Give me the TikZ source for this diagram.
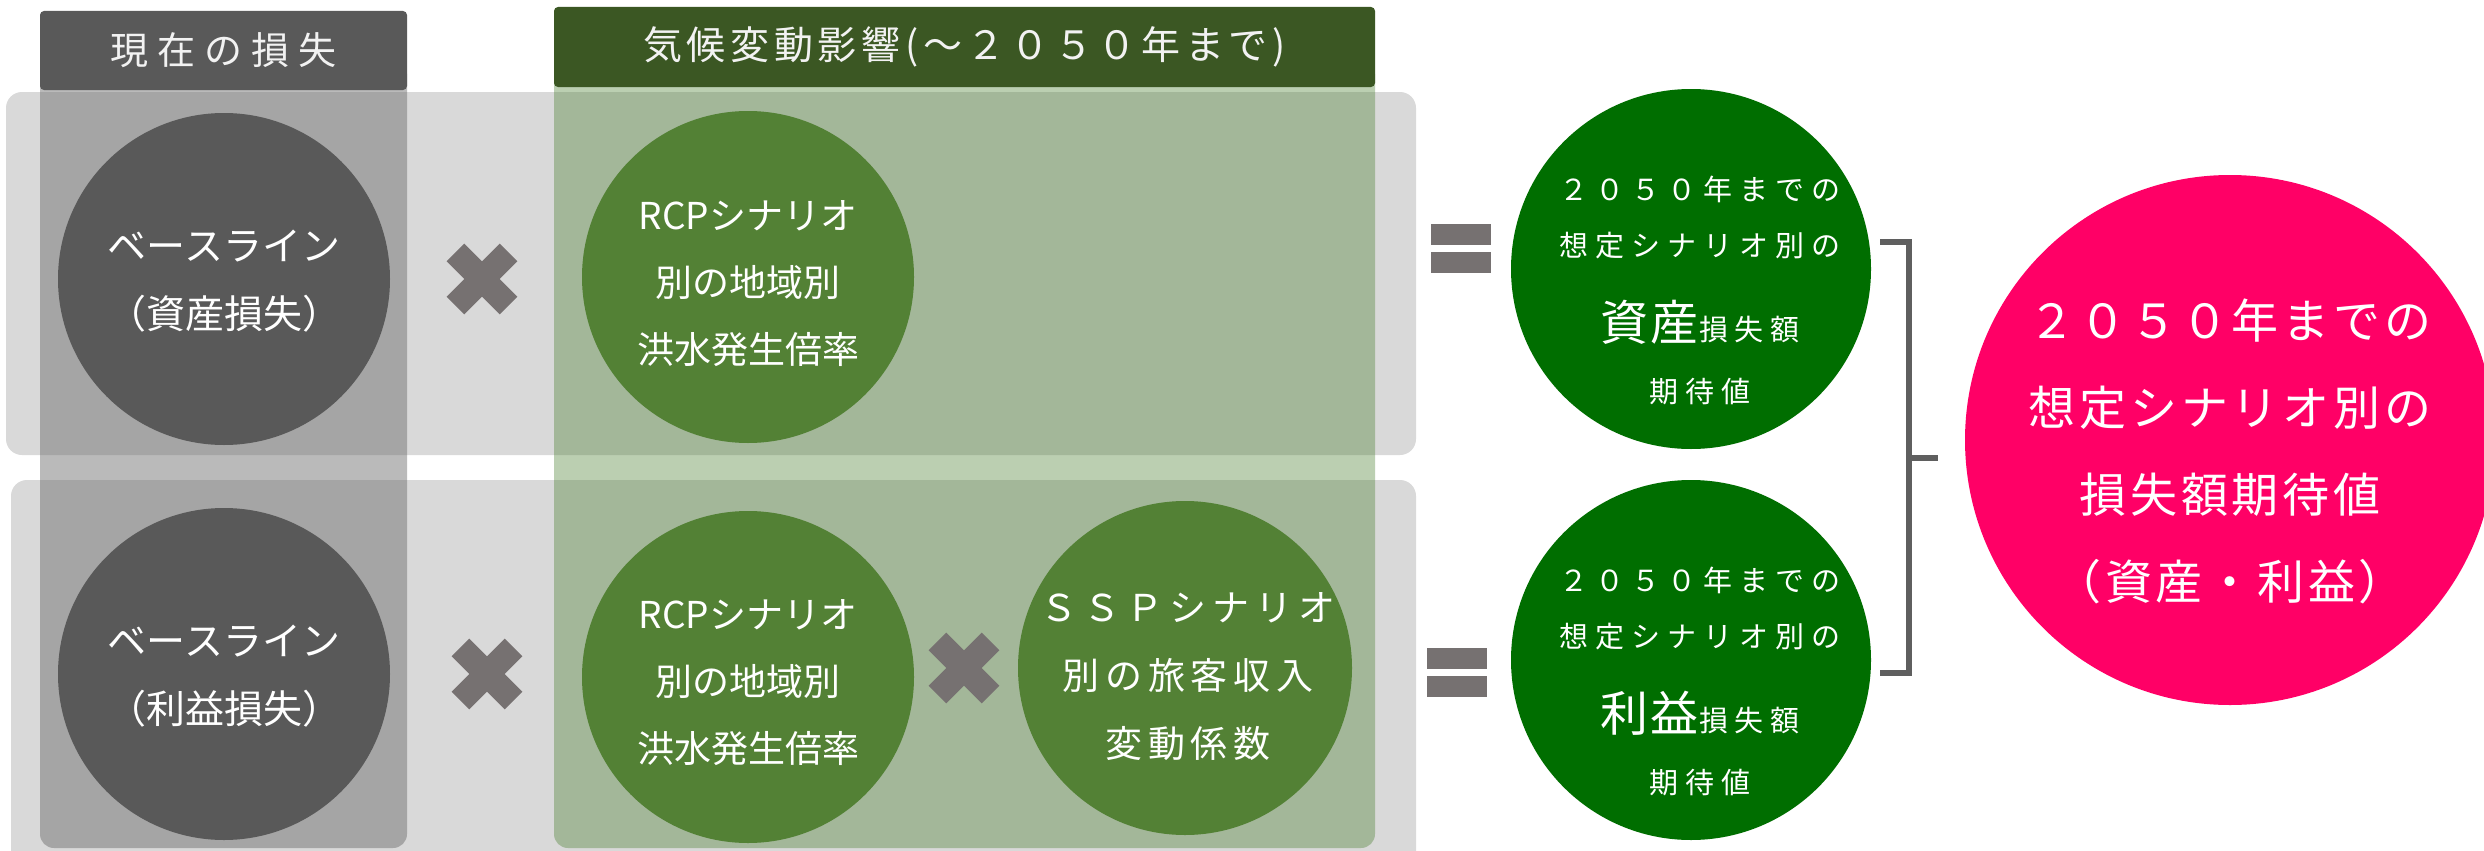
\documentclass[tikz,border=0pt]{standalone}
\usepackage{fontspec}
\setmainfont{Noto Sans CJK JP}
\definecolor{bandgray}{HTML}{D9D9D9}
\definecolor{colgray}{RGB}{103,103,103}
\definecolor{colgreen}{RGB}{71,125,44}
\definecolor{hdrgray}{HTML}{595959}
\definecolor{hdrgreen}{HTML}{3B5723}
\definecolor{basegray}{HTML}{595959}
\definecolor{leaf}{HTML}{538135}
\definecolor{resgreen}{HTML}{006E00}
\definecolor{pinkres}{HTML}{FF0066}
\definecolor{opgray}{HTML}{767171}
\definecolor{brgray}{HTML}{5F5F5F}
\definecolor{hdrtext}{HTML}{F2F2F2}
\tikzset{
  bandbox/.style={fill=bandgray, rounded corners=16pt},
  graycol/.style={fill=colgray, fill opacity=0.45, rounded corners=14pt},
  greencol/.style={fill=colgreen, fill opacity=0.37, rounded corners=14pt},
  hdrbox/.style={rounded corners=4pt, inner sep=0pt, text=hdrtext,
    font={\fontsize{38}{38}\selectfont\addfontfeature{LetterSpace=24}}},
  disc/.style={circle, inner sep=0pt, draw=none},
  lbl/.style={text=white, align=center, inner sep=0pt},
  basefont/.style={font={\fontsize{39}{68}\selectfont}},
  rcpfont/.style={font={\fontsize{37}{67}\selectfont}},
  sspfont/.style={font={\fontsize{37}{68}\selectfont\addfontfeature{LetterSpace=16}}},
  resfont/.style={font={\fontsize{29}{29}\selectfont\addfontfeature{LetterSpace=24}}},
  pinkfont/.style={font={\fontsize{47}{87}\selectfont\addfontfeature{LetterSpace=8}}},
  bracket/.style={draw=brgray, line width=6pt},
  timessign/.pic={
    \fill[opgray, rotate=45] (-37.5,-12.5) rectangle (37.5,12.5);
    \fill[opgray, rotate=-45] (-37.5,-12.5) rectangle (37.5,12.5);
  },
  equalsign/.pic={
    \fill[opgray] (-30,-24.5) rectangle (30,-3.5);
    \fill[opgray] (-30,3.5) rectangle (30,24.5);
  }
}
\newcommand{\bigres}[1]{{\fontsize{48}{48}\selectfont\addfontfeature{LetterSpace=6}#1}}
\begin{document}
\begin{tikzpicture}[x=1pt, y=-1pt]
\clip (0,0) rectangle (2484,851);
\fill[white] (0,0) rectangle (2484,851);
% row bands
\fill[bandbox] (6,92) rectangle (1416,455);
\fill[bandbox] (11,480) rectangle (1416,900);
% columns
\fill[graycol] (40,60) rectangle (407,848);
\fill[greencol] (554,60) rectangle (1375,848);
% headers
\node[hdrbox, fill=hdrgray, minimum width=367pt, minimum height=79pt] (h1) at (223.5,50.5) {現在の損失};
\node[hdrbox, fill=hdrgreen, minimum width=821pt, minimum height=80pt,
  font={\fontsize{39}{39}\selectfont\addfontfeature{LetterSpace=12}}] (h2) at (964.5,47) {気候変動影響(～２０５０年まで)};
% row 1
\node[disc, fill=basegray, minimum size=332pt] (b1) at (224,279) {};
\node[lbl, basefont] (b1t) at (224,281) {ベースライン\\（資産損失）};
\pic (x1) at (482,279) {timessign};
\node[disc, fill=leaf, minimum size=332pt] (r1) at (748,277) {};
\node[lbl, rcpfont] (r1t) at (748,284) {RCPシナリオ\\別の地域別\\洪水発生倍率};
\pic (e1) at (1461,248.5) {equalsign};
% row 2
\node[disc, fill=basegray, minimum size=332pt] (b2) at (224,674) {};
\node[lbl, basefont] (b2t) at (224,676) {ベースライン\\（利益損失）};
\pic (x2) at (487,674) {timessign};
\node[disc, fill=leaf, minimum size=332pt] (r2) at (748,677) {};
\node[lbl, rcpfont] (r2t) at (748,683) {RCPシナリオ\\別の地域別\\洪水発生倍率};
\pic (x3) at (964,668) {timessign};
\node[disc, fill=leaf, minimum size=334pt] (s2) at (1185,668) {};
\node[lbl, sspfont] (s2t) at (1188,677) {ＳＳＰシナリオ\\別の旅客収入\\変動係数};
\pic (e2) at (1457,672) {equalsign};
% result circles
\node[disc, fill=resgreen, minimum size=360pt] (q1) at (1691,269) {};
\node[lbl, resfont] (q1a) at (1700,189) {２０５０年までの};
\node[lbl, resfont] (q1b) at (1700,246) {想定シナリオ別の};
\node[lbl, resfont] (q1c) at (1700,322) {\bigres{資産}損失額};
\node[lbl, resfont] (q1d) at (1700,392) {期待値};
\node[disc, fill=resgreen, minimum size=360pt] (q2) at (1691,660) {};
\node[lbl, resfont] (q2a) at (1700,580) {２０５０年までの};
\node[lbl, resfont] (q2b) at (1700,637) {想定シナリオ別の};
\node[lbl, resfont] (q2c) at (1700,713) {\bigres{利益}損失額};
\node[lbl, resfont] (q2d) at (1700,783) {期待値};
% bracket
\coordinate (bt) at (1880,242);
\coordinate (bb) at (1880,673);
\coordinate (bx) at (1909,458);
\coordinate (bm) at (1938,458);
\draw[bracket] (bt) -| (bx) |- (bb);
\draw[bracket] (bx) -- (bm);
% total
\node[disc, fill=pinkres, minimum size=530pt] (tot) at (2230,440) {};
\node[lbl, pinkfont] (tott) at (2230,451) {２０５０年までの\\想定シナリオ別の\\損失額期待値\\（資産・利益）};
\end{tikzpicture}
\end{document}
